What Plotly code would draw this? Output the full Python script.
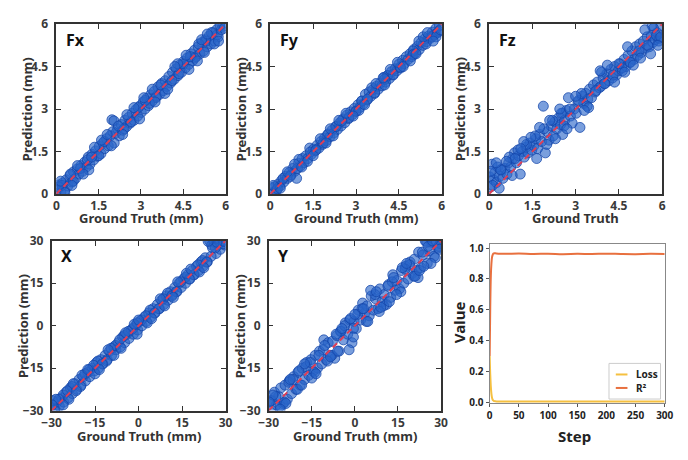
import plotly.graph_objects as go

W, H = 688, 460

# ---------------- data ----------------
fx_gt = [0.04,0.10,0.16,0.22,0.29,0.35,0.41,0.48,0.55,0.61,
         0.68,0.74,0.80,0.87,0.93,1.00,1.06,1.13,1.19,1.26,
         1.32,1.39,1.45,1.52,1.58,1.65,1.71,1.78,1.84,1.91,
         1.97,2.04,2.10,2.17,2.23,2.30,2.36,2.43,2.49,2.56,
         2.62,2.69,2.75,2.82,2.88,2.95,3.01,3.08,3.14,3.21,
         3.27,3.34,3.40,3.47,3.53,3.60,3.66,3.73,3.79,3.86,
         3.92,3.99,4.05,4.12,4.18,4.25,4.31,4.38,4.44,4.51,
         4.57,4.64,4.70,4.77,4.83,4.90,4.96,5.03,5.09,5.16,
         5.22,5.29,5.35,5.42,5.48,5.55,5.61,5.68,5.74,5.90,
         0.20,0.60,1.10,1.50,2.00,2.40,2.90,3.30,3.70,4.10,
         4.50,4.90,5.30,5.70,5.85,0.85,1.70,2.65,3.55,4.75,
         5.50,5.05,4.35,3.15,2.20,1.25,0.50,5.80,5.95,0.08,
         0.30,0.75,1.15,1.60,2.05,2.50,2.95,3.40,3.85,4.30,
         4.70,5.15,5.60,0.55,1.35,1.95,2.75,3.50,4.20,5.00,
         5.35,5.75,0.95,1.80,2.35,3.10,3.95,4.60,5.25,0.15]
fx_pred = [0.15,0.32,0.05,0.38,0.12,0.50,0.28,0.65,0.42,0.78,
           0.55,0.88,0.70,1.00,0.80,1.12,0.95,1.30,1.05,1.40,
           1.20,1.52,1.33,1.68,1.42,1.80,1.60,1.95,1.70,2.05,
           2.62,2.58,2.15,2.30,2.05,2.45,2.25,2.60,2.38,2.70,
           2.50,2.85,2.60,2.98,2.75,3.10,2.88,3.25,3.00,3.38,
           3.12,3.50,3.28,3.62,3.40,3.78,3.52,3.90,3.65,4.00,
           3.80,4.15,3.92,4.30,4.05,4.42,4.18,4.55,4.30,4.68,
           4.45,4.80,4.58,4.95,4.70,5.08,4.85,5.20,4.95,5.35,
           5.05,5.45,5.20,5.58,5.30,5.70,5.40,5.80,5.55,5.92,
           0.30,0.45,1.20,1.35,2.20,2.30,3.05,3.20,3.85,4.00,
           4.60,4.80,5.40,5.62,5.80,0.90,1.85,2.55,3.45,4.85,
           5.70,5.30,4.25,3.30,2.40,1.30,0.70,5.95,5.85,0.25,
           0.05,1.00,0.85,1.90,1.80,2.80,2.65,3.70,3.55,4.60,
           4.40,5.45,5.30,0.30,1.65,1.70,3.05,3.25,4.50,4.70,
           5.65,5.40,0.70,2.10,2.10,3.40,3.70,4.90,5.00,0.45]

fy_gt = [0.03,0.09,0.15,0.21,0.28,0.34,0.40,0.47,0.53,0.60,
         0.66,0.73,0.79,0.86,0.92,0.99,1.05,1.12,1.18,1.25,
         1.31,1.38,1.44,1.51,1.57,1.64,1.70,1.77,1.83,1.90,
         1.96,2.03,2.09,2.16,2.22,2.29,2.35,2.42,2.48,2.55,
         2.61,2.68,2.74,2.81,2.87,2.94,3.00,3.07,3.13,3.20,
         3.26,3.33,3.39,3.46,3.52,3.59,3.65,3.72,3.78,3.85,
         3.91,3.98,4.04,4.11,4.17,4.24,4.30,4.37,4.43,4.50,
         4.56,4.63,4.69,4.76,4.82,4.89,4.95,5.02,5.08,5.15,
         5.21,5.28,5.34,5.41,5.47,5.54,5.60,5.67,5.73,5.80,
         5.86,5.92,0.12,0.45,0.95,1.40,1.85,2.30,2.75,3.20,
         3.65,4.10,4.55,5.00,5.45,5.75,0.70,1.60,2.50,3.40,
         4.30,5.20,5.65,0.25,1.00,2.00,3.00,4.00,5.00,5.90,
         0.35,0.85,1.30,1.75,2.20,2.65,3.10,3.55,4.00,4.45,
         4.90,5.35,5.80,0.60,1.50,2.40,3.30,4.20,5.10,5.95,
         0.10,1.10,2.10,2.90,3.70,4.65,5.50,1.95,3.95,5.70]
fy_pred = [0.22,0.05,0.25,0.12,0.35,0.28,0.48,0.42,0.62,0.55,
           0.75,0.68,0.90,0.80,0.55,1.08,0.98,1.25,1.10,1.35,
           1.25,1.62,1.40,1.58,1.52,1.72,1.62,1.85,1.75,1.98,
           1.88,2.12,2.02,2.25,2.15,2.38,2.28,2.50,2.40,2.65,
           2.52,2.78,2.66,2.90,2.80,3.02,2.92,3.15,3.05,3.28,
           3.18,3.52,3.32,3.60,3.45,3.68,3.55,3.80,3.70,3.92,
           3.82,4.12,3.95,4.18,4.08,4.32,4.20,4.42,4.35,4.58,
           4.45,4.72,4.60,4.85,4.75,4.95,4.85,5.10,4.98,5.22,
           5.10,5.35,5.25,5.48,5.38,5.58,5.50,5.72,5.62,5.85,
           5.70,5.95,0.02,0.55,0.90,1.48,1.80,2.38,2.70,3.28,
           3.58,4.18,4.48,5.05,5.30,5.62,0.62,1.55,2.58,3.35,
           4.22,5.40,5.55,0.18,1.22,2.08,2.92,4.05,4.92,5.75,
           0.20,1.05,1.15,1.95,2.05,2.85,2.95,3.75,3.85,4.65,
           4.70,5.55,5.55,0.78,1.35,2.60,3.15,4.40,4.95,5.80,
           0.30,0.95,2.30,2.75,3.90,4.50,5.70,1.80,4.10,5.40]

fz_gt = [0.02,0.06,0.10,0.15,0.20,0.25,0.30,0.36,0.42,0.48,
         0.55,0.62,0.68,0.75,0.82,0.88,0.95,1.02,1.08,1.15,
         1.22,1.28,1.35,1.42,1.48,1.55,1.62,1.68,1.75,1.82,
         1.88,1.95,2.02,2.08,2.15,2.22,2.28,2.35,2.42,2.48,
         2.55,2.62,2.68,2.75,2.82,2.88,2.95,3.02,3.08,3.15,
         3.22,3.28,3.35,3.42,3.48,3.55,3.62,3.68,3.75,3.82,
         3.88,3.95,4.02,4.08,4.15,4.22,4.28,4.35,4.42,4.48,
         4.55,4.62,4.68,4.75,4.82,4.88,4.95,5.02,5.08,5.15,
         5.22,5.28,5.35,5.42,5.48,5.55,5.62,5.68,5.75,5.82,
         5.88,5.95,5.70,5.90,0.12,0.40,0.70,1.00,1.30,1.60,
         1.90,2.20,2.50,2.80,3.10,3.40,3.70,4.00,4.30,4.60,
         4.90,5.20,5.50,5.80,0.90,2.00,2.60,3.20,4.50,5.60,
         0.05,0.35,0.80,1.20,1.65,2.10,2.55,3.00,3.45,3.90,
         4.35,4.80,5.25,5.65,5.95,0.60,1.45,2.30,3.85,5.00,
         0.25,1.10,2.70,3.30,4.10,4.70,5.40,5.85,2.45,1.75]
fz_pred = [0.60,0.25,1.05,0.50,0.75,0.40,0.95,0.62,0.85,0.55,
           0.90,0.70,1.10,0.95,1.25,1.45,1.10,1.35,0.70,1.50,
           1.30,1.65,1.45,1.80,1.55,1.70,1.95,1.60,2.10,1.85,
           3.10,1.45,2.20,1.90,2.40,2.05,2.55,2.30,2.70,2.45,
           2.85,2.60,2.95,3.40,2.75,2.50,3.00,2.85,3.25,2.35,
           3.45,3.20,3.55,3.35,3.70,3.40,3.85,3.60,3.95,3.75,
           3.80,4.10,3.90,4.25,4.00,4.40,4.10,4.50,4.20,4.35,
           4.60,4.35,4.75,4.50,4.90,4.65,5.05,4.75,5.20,4.90,
           5.30,5.00,5.40,5.15,5.55,5.20,5.60,5.35,5.45,5.70,
           5.40,5.95,5.85,5.50,0.30,0.85,1.30,1.55,1.75,2.05,
           2.30,2.60,2.85,3.00,3.30,3.10,3.65,3.90,4.20,4.45,
           4.65,5.05,5.25,5.60,1.25,1.75,2.40,3.55,4.60,4.95,
           0.80,0.20,0.65,1.85,1.25,2.60,2.10,3.45,3.05,4.30,
           3.95,5.20,4.80,5.95,5.55,1.15,2.00,1.95,4.35,4.55,
           1.10,1.60,2.30,2.95,4.55,4.30,5.80,5.25,3.00,2.35]

x_gt = [-29.5,-28.8,-28.0,-27.3,-26.5,-25.8,-25.0,-24.3,-23.5,-22.8,
        -22.0,-21.3,-20.5,-19.8,-19.0,-18.3,-17.5,-16.8,-16.0,-15.3,
        -14.5,-13.8,-13.0,-12.3,-11.5,-10.8,-10.0,-9.3,-8.5,-7.8,
        -7.0,-6.3,-5.5,-4.8,-4.0,-3.3,-2.5,-1.8,-1.0,-0.3,
        0.5,1.2,2.0,2.7,3.5,4.2,5.0,5.7,6.5,7.2,
        8.0,8.7,9.5,10.2,11.0,11.7,12.5,13.2,14.0,14.7,
        15.5,16.2,17.0,17.7,18.5,19.2,20.0,20.7,21.5,22.2,
        23.0,23.7,24.5,25.2,26.0,26.7,27.5,28.2,29.0,29.7,
        -29.0,-26.0,-23.0,-20.0,-17.0,-14.0,-11.0,-8.0,-5.0,-2.0,
        1.0,4.0,7.0,10.0,13.0,16.0,19.0,22.0,25.0,28.0,
        -27.5,-24.5,-21.5,-18.5,-15.5,-12.5,-9.5,-6.5,-3.5,-0.5,
        2.5,5.5,8.5,11.5,14.5,17.5,20.5,23.5,26.5,29.2,
        -28.5,-24.0,-19.5,-15.0,-10.5,-6.0,-1.5,3.0,7.5,12.0,
        16.5,21.0,25.5,29.5,-26.0,-17.5,-8.5,0.0,9.0,18.0,
        -22.5,-13.5,-4.5,4.5,13.5,22.5,27.0,-29.8,24.0,-0.5]
x_pred = [-26.5,-29.5,-27.0,-28.5,-25.5,-27.0,-23.5,-25.5,-22.0,-24.0,
          -20.5,-22.5,-19.0,-21.0,-18.0,-19.5,-16.5,-18.0,-15.0,-16.0,
          -13.0,-15.0,-12.0,-13.5,-10.5,-12.0,-9.0,-10.5,-7.5,-8.5,
          -6.0,-7.5,-4.0,-6.0,-3.0,-4.5,-1.5,-3.0,0.0,-1.5,
          1.5,0.0,3.0,1.5,4.5,3.0,6.0,4.5,7.5,6.0,
          9.0,7.5,10.5,9.0,12.0,11.0,13.5,12.0,15.0,13.5,
          16.5,15.0,18.0,16.5,19.5,18.0,21.0,19.5,22.5,21.0,
          24.0,22.5,30.0,28.5,29.5,25.5,28.5,27.0,30.0,28.5,
          -30.0,-24.5,-21.5,-21.5,-15.5,-12.5,-12.5,-7.0,-3.5,-1.0,
          2.0,5.5,6.0,11.5,12.0,17.0,18.0,23.0,24.5,29.5,
          -26.0,-23.0,-23.0,-17.0,-14.0,-13.5,-8.0,-5.0,-2.0,1.0,
          3.5,4.5,9.5,10.5,15.5,16.5,21.5,22.5,27.5,29.0,
          -26.0,-26.0,-17.5,-17.0,-8.5,-8.0,0.5,1.0,9.5,10.0,
          18.5,19.0,27.5,29.8,-28.0,-15.5,-10.5,2.0,7.0,20.0,
          -20.5,-15.5,-2.5,2.5,15.5,20.5,29.5,-28.0,29.8,-3.0]

y_gt = list(x_gt)
y_pred = [-26.5,-30.0,-23.5,-28.0,-25.0,-22.0,-27.5,-21.0,-26.0,-19.5,
          -24.0,-18.0,-22.5,-16.5,-21.0,-15.0,-19.0,-13.0,-17.5,-12.0,
          -16.0,-10.5,-15.0,-9.0,-13.5,-5.0,-12.0,-6.0,-10.5,-5.5,
          -11.5,-3.5,-9.0,-2.0,-5.0,1.0,-3.0,2.0,-6.0,1.5,
          -1.0,5.5,2.0,8.0,4.5,7.0,3.5,10.5,5.5,9.5,
          6.0,13.0,8.5,11.0,7.5,14.5,10.0,18.0,12.5,16.0,
          13.0,19.5,15.0,21.0,16.5,22.5,18.5,23.5,19.5,26.0,
          20.5,25.0,30.0,22.0,26.5,29.5,24.5,30.0,27.5,29.0,
          -26.5,-28.5,-20.0,-22.5,-14.5,-16.5,-8.5,-10.5,-2.0,-8.5,
          4.0,1.5,11.0,7.0,15.5,12.0,21.5,17.0,29.5,24.0,
          -25.0,-27.0,-19.0,-21.0,-13.0,-10.5,-12.5,-3.0,0.0,-1.0,
          6.0,12.5,5.0,14.0,11.0,20.0,17.5,26.0,22.0,28.0,
          -24.5,-27.5,-16.0,-18.5,-7.0,-9.0,2.5,6.0,12.0,8.5,
          20.5,17.5,28.0,27.0,-29.5,-13.5,-11.0,4.0,6.5,22.0,
          -19.0,-17.0,-1.0,1.5,17.0,19.5,30.0,-27.0,21.0,-4.0]

steps = [0,1,2,3,4,5,6,7,8,10,12,15,20,30,50,75,100,125,150,175,200,225,250,275,300]
loss = [0.30,0.18,0.10,0.055,0.03,0.018,0.012,0.009,0.007,0.006,0.0055,0.005,0.005,
        0.005,0.005,0.005,0.005,0.005,0.005,0.005,0.005,0.005,0.005,0.005,0.005]
r2 = [0.30,0.62,0.82,0.90,0.94,0.955,0.962,0.965,0.966,0.966,0.965,0.964,0.963,
      0.963,0.965,0.962,0.964,0.961,0.963,0.962,0.964,0.962,0.961,0.963,0.962]

force_ticks = [0, 1.5, 3, 4.5, 6]
force_ticklabels = ["0", "1.5", "3", "4.5", "6"]
pos_ticks = [-30, -15, 0, 15, 30]
pos_ticklabels = ["\u221230", "\u221215", "0", "15", "30"]
force_lims = [0, 6]
pos_lims = [-30, 30]

# --------------- layout helpers ---------------
def pxx(x):
    return x / W

def pxy(y):
    return 1 - y / H

FONT = "Noto Sans"
TICKC = "#3a3a3a"
MARK = dict(size=10, color="rgba(40,100,200,0.62)",
            line=dict(color="rgba(20,70,170,0.75)", width=1))

panels = [
    # name, gt, pred, ticks, labels, lims, box(l,r,t,b), xtitle, title offset
    ("Fx", fx_gt, fx_pred, force_ticks, force_ticklabels, force_lims, (47.7, 221.7, 15.7, 192), "Ground Truth (mm)", 25),
    ("Fy", fy_gt, fy_pred, force_ticks, force_ticklabels, force_lims, (267.7, 444, 15.7, 192), "Ground Truth (mm)", 25),
    ("Fz", fz_gt, fz_pred, force_ticks, force_ticklabels, force_lims, (492.7, 670.7, 15.7, 192), "Ground Truth", 25),
    ("X", x_gt, x_pred, pos_ticks, pos_ticklabels, pos_lims, (42.7, 221.7, 240.7, 417), "Ground Truth (mm)", 26),
    ("Y", y_gt, y_pred, pos_ticks, pos_ticklabels, pos_lims, (266, 443.3, 240.7, 417), "Ground Truth (mm)", 26),
]

fig = go.Figure()
annotations = []
shapes = []
layout = {}

for i, (name, gt, pred, ticks, labels, lims, box, xtitle, toff) in enumerate(panels):
    k = i + 1
    xa = "x" if k == 1 else f"x{k}"
    ya = "y" if k == 1 else f"y{k}"
    l, r, t, b = box
    fig.add_trace(go.Scatter(x=gt, y=pred, mode="markers", marker=MARK,
                             xaxis=xa, yaxis=ya, showlegend=False, hoverinfo="skip"))
    fig.add_trace(go.Scatter(x=lims, y=lims, mode="lines",
                             line=dict(color="#dc3f58", width=2, dash="6px,4px"),
                             xaxis=xa, yaxis=ya, showlegend=False, hoverinfo="skip"))
    ax = dict(range=lims, tickvals=ticks, ticktext=labels, ticks="inside", ticklen=5,
              tickcolor="#333", tickwidth=1.2, showline=True, linecolor="#333", linewidth=1.5,
              mirror="allticks", showgrid=False, zeroline=False,
              tickfont=dict(family=FONT, size=12, color=TICKC, weight="bold"))
    xkey = "xaxis" if k == 1 else f"xaxis{k}"
    ykey = "yaxis" if k == 1 else f"yaxis{k}"
    layout[xkey] = dict(ax, domain=[pxx(l), pxx(r)], anchor=ya, ticklabelstandoff=0)
    layout[ykey] = dict(ax, domain=[pxy(b), pxy(t)], anchor=xa, ticklabelstandoff=4)
    annotations.append(dict(text=f"<b>{name}</b>", x=pxx(l + 8), y=pxy(t + 16), xref="paper", yref="paper",
                            xanchor="left", yanchor="middle", showarrow=False,
                            font=dict(family=FONT, size=16, color="#111")))
    annotations.append(dict(text=f"<b>{xtitle}</b>", x=pxx((l + r) / 2), y=pxy(b + toff),
                            xref="paper", yref="paper", xanchor="center", yanchor="middle",
                            showarrow=False, font=dict(family=FONT, size=13, color="#333")))
    annotations.append(dict(text="<b>Prediction (mm)</b>", x=pxx(l - 30), y=pxy((t + b) / 2),
                            xref="paper", yref="paper", xanchor="center", yanchor="middle",
                            textangle=-90, showarrow=False,
                            font=dict(family=FONT, size=13, color="#333")))

# ---------------- loss / R2 panel ----------------
lb = (493.3, 673.3, 244.3, 409.3)
LOSS_C = "#f5c040"
R2_C = "#e8703f"
fig.add_trace(go.Scatter(x=steps, y=loss, mode="lines", line=dict(color=LOSS_C, width=2, shape="spline"),
                         xaxis="x6", yaxis="y6", showlegend=False, hoverinfo="skip"))
fig.add_trace(go.Scatter(x=steps, y=r2, mode="lines", line=dict(color=R2_C, width=2, shape="spline"),
                         xaxis="x6", yaxis="y6", showlegend=False, hoverinfo="skip"))
ax6 = dict(showline=True, linecolor="#888", linewidth=1.2, mirror=True, showgrid=False, zeroline=False,
           ticks="outside", ticklen=3, tickcolor="#555",
           tickfont=dict(family=FONT, size=10, color="#222", weight="bold"))
layout["xaxis6"] = dict(ax6, domain=[pxx(lb[0]), pxx(lb[1])], anchor="y6", range=[0, 300],
                        tickvals=[0, 50, 100, 150, 200, 250, 300])
layout["yaxis6"] = dict(ax6, domain=[pxy(lb[3]), pxy(lb[2])], anchor="x6", range=[-0.006, 1.025],
                        tickvals=[0, 0.2, 0.4, 0.6, 0.8, 1.0],
                        ticktext=["0.0", "0.2", "0.4", "0.6", "0.8", "1.0"])
annotations.append(dict(text="<b>Step</b>", x=pxx(581), y=pxy(443), xref="paper", yref="paper",
                        xanchor="center", yanchor="middle",
                        showarrow=False, font=dict(family=FONT, size=15, color="#222")))
annotations.append(dict(text="<b>Value</b>", x=pxx(462), y=pxy(325), xref="paper", yref="paper",
                        xanchor="center", yanchor="middle",
                        textangle=-90, showarrow=False, font=dict(family=FONT, size=15, color="#222")))

# legend
shapes.append(dict(type="rect", xref="paper", yref="paper", x0=pxx(616), x1=pxx(669), y0=pxy(405), y1=pxy(368),
                   line=dict(color="#ccc", width=1), fillcolor="white", layer="above"))
for yy, col, txt in [(379.5, LOSS_C, "Loss"), (393.5, R2_C, "R\u00b2")]:
    shapes.append(dict(type="line", xref="paper", yref="paper", x0=pxx(623), x1=pxx(635), y0=pxy(yy), y1=pxy(yy),
                       line=dict(color=col, width=2), layer="above"))
    annotations.append(dict(text=f"<b>{txt}</b>", x=pxx(642), y=pxy(yy), xref="paper", yref="paper",
                            xanchor="left", yanchor="middle", showarrow=False,
                            font=dict(family=FONT, size=10, color="#222")))

fig.update_layout(width=W, height=H, margin=dict(l=0, r=0, t=0, b=0),
                  paper_bgcolor="white", plot_bgcolor="white",
                  annotations=annotations, shapes=shapes, **layout)

fig.write_html("out.html")
